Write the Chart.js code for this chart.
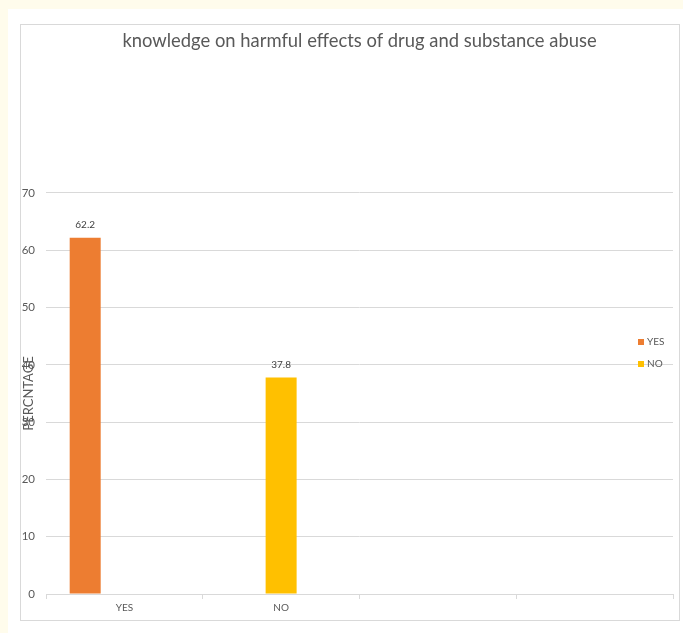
<!DOCTYPE html>
<html>
<head>
<meta charset="utf-8">
<script src="https://cdn.jsdelivr.net/npm/chart.js@4"></script>
<style>
  html, body { margin: 0; padding: 0; width: 683px; height: 633px; overflow: hidden; background: #fffcec; }
  #panel { position: absolute; left: 8px; top: 9px; right: 0; bottom: 0; background: #fff; }
  #box { position: absolute; left: 20px; top: 24px; width: 660px; height: 597px; border: 1px solid #d9d9d9; box-sizing: border-box; background: #fff; }
  #wrap { position: absolute; left: 21px; top: 25px; width: 659px; height: 596px; }
  #legend { position: absolute; left: 638px; top: 333px; font: 10px Lato, sans-serif; color: #595959; }
  #legend div { height: 22px; line-height: 16px; white-space: nowrap; }
  #legend span { display: inline-block; width: 6px; height: 6px; margin-right: 3px; vertical-align: 0px; }
</style>
</head>
<body>
<div id="panel"></div>
<div id="box"></div>
<div id="wrap"><canvas id="chart"></canvas></div>
<div id="legend"></div>
<script>
var categories = ['YES', 'NO', '', ''];
var yesValues = [62.2, null, null, null];
var noValues = [0, 37.8, null, null];
var seriesNames = ['YES', 'NO'];
var seriesColors = ['#ED7D31', '#FFC000'];
var yTicks = [0, 10, 20, 30, 40, 50, 60, 70];

var ctx = document.getElementById('chart').getContext('2d');

// value labels above the bars
var barLabels = {
    id: 'barLabels',
    afterDatasetsDraw: function(chart) {
        var c = chart.ctx;
        c.save();
        c.font = '10px Lato, sans-serif';
        c.fillStyle = '#404040';
        c.textAlign = 'center';
        c.textBaseline = 'middle';
        chart.data.datasets.forEach(function(ds, i) {
            chart.getDatasetMeta(i).data.forEach(function(bar, j) {
                var v = ds.data[j];
                if (v) c.fillText(v.toString(), bar.x, bar.y - 13);
            });
        });
        c.restore();
    }
};

var chart = new Chart(ctx, {
    type: 'bar',
    data: {
        labels: categories,
        datasets: [{
            label: seriesNames[0],
            data: yesValues,
            backgroundColor: seriesColors[0]
        }, {
            label: seriesNames[1],
            data: noValues,
            backgroundColor: seriesColors[1]
        }]
    },
    options: {
        responsive: true,
        maintainAspectRatio: false,
        animation: false,
        skipNull: true,
        categoryPercentage: 1,
        barPercentage: 0.8,
        maxBarThickness: 31,
        layout: { padding: { left: 0, right: 7, top: 0, bottom: 0 } },
        plugins: {
            legend: { display: false },
            tooltip: { enabled: false },
            title: {
                display: true,
                fullSize: false, // centre over the plot area like excel
                text: 'knowledge on harmful effects of drug and substance abuse',
                color: '#595959',
                font: { family: 'Lato, sans-serif', size: 18.4, weight: 'normal' },
                padding: { top: 5, bottom: 140.9 }
            }
        },
        scales: {
            x: {
                grid: { drawOnChartArea: false, drawTicks: true, tickLength: 5, color: '#d9d9d9' },
                border: { display: true, color: '#d9d9d9' },
                ticks: { color: '#595959', padding: 3, font: { family: 'Lato, sans-serif', size: 10 } },
                afterFit: function(s) { s.height = 27; }
            },
            y: {
                min: 0,
                max: 70,
                afterBuildTicks: function(s) { s.ticks = yTicks.map(function(v) { return { value: v }; }); },
                grid: { color: '#d9d9d9', drawTicks: false },
                border: { display: false },
                ticks: { color: '#595959', padding: 11, font: { family: 'Lato, sans-serif', size: 11.5 } },
                title: {
                    display: true,
                    text: 'PERCNTAGE',
                    color: '#595959',
                    font: { family: 'Lato, sans-serif', size: 13 },
                    padding: { top: 0, bottom: 0 }
                },
                afterFit: function(s) { s.width = 25; }
            }
        }
    },
    plugins: [barLabels]
});

var legend = document.getElementById('legend');
seriesNames.forEach(function(name, i) {
    var row = document.createElement('div');
    var sw = document.createElement('span');
    sw.style.background = seriesColors[i];
    row.appendChild(sw);
    row.appendChild(document.createTextNode(name));
    legend.appendChild(row);
});
</script>
</body>
</html>
